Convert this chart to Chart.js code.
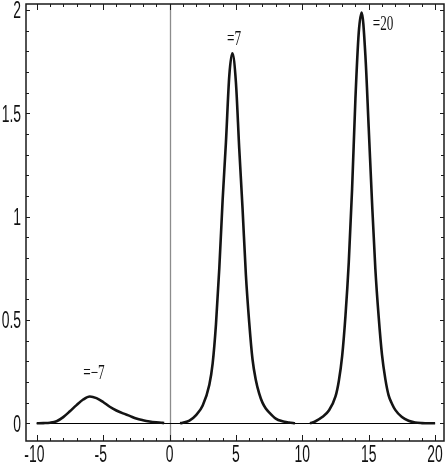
<!DOCTYPE html>
<html>
<head>
<meta charset="utf-8">
<script src="https://cdn.jsdelivr.net/npm/chart.js@4.4.0/dist/chart.umd.min.js"></script>
<style>
html, body { margin: 0; padding: 0; background: #fff; }
#wrap { width: 445px; height: 463px; position: relative; }
</style>
</head>
<body>
<div id="wrap"><canvas id="peaksChart"></canvas></div>
<script>
// values
const curve1X = [-10, -9.5, -9, -8.5, -8, -7.5, -7, -6.5, -6, -5.5, -5, -4.5, -4, -3.5, -3, -2.5, -2, -1.5, -1, -0.5, -0.4];
const curve1Y = [0, 0.001, 0.003, 0.01, 0.03, 0.058, 0.088, 0.115, 0.13, 0.122, 0.103, 0.08, 0.062, 0.048, 0.036, 0.023, 0.015, 0.009, 0.005, 0.002, 0.001];

const curve2X = [0.8, 1, 1.5, 2, 2.5, 3, 3.25, 3.5, 3.75, 4, 4.25, 4.5, 4.73, 5, 5.25, 5.5, 5.75, 6, 6.25, 6.5, 6.75, 7, 7.25, 7.5, 8, 8.5, 9, 9.45];
const curve2Y = [0, 0.003, 0.013, 0.04, 0.086, 0.187, 0.29, 0.48, 0.75, 1.08, 1.36, 1.68, 1.79, 1.65, 1.33, 1.04, 0.72, 0.49, 0.31, 0.21, 0.145, 0.1, 0.072, 0.053, 0.023, 0.01, 0.004, 0];

const curve3X = [10.58, 11, 11.5, 12, 12.5, 12.75, 13, 13.25, 13.5, 13.75, 14, 14.25, 14.47, 14.75, 15, 15.25, 15.5, 15.75, 16, 16.25, 16.5, 16.75, 17, 17.5, 18, 18.5, 19, 19.5, 20];
const curve3Y = [0, 0.01, 0.03, 0.062, 0.13, 0.205, 0.325, 0.52, 0.78, 1.134, 1.57, 1.89, 1.987, 1.78, 1.43, 1.07, 0.748, 0.516, 0.332, 0.215, 0.135, 0.095, 0.065, 0.03, 0.012, 0.004, 0.001, 0, 0];

const xTicks = [-10, -5, 0, 5, 10, 15, 20];
const xTickLabels = ['-10', '-5', '0', '5', '10', '15', '20'];
const yTicks = [0, 0.5, 1, 1.5, 2];
const yTickLabels = ['0', '0.5', '1', '1.5', '2'];

const peakLabels = ['=\u22127', '=7', '=20'];
const peakLabelX = [-5.69, 4.86, 16.08];
const peakLabelY = [0.238, 1.854, 1.93];

function toPoints(xs, ys) {
    return xs.map((v, i) => ({ x: v, y: ys[i] }));
}

function lineSet(xs, ys) {
    return {
        data: toPoints(xs, ys),
        borderColor: '#141414',
        borderWidth: 2.6,
        pointRadius: 0,
        fill: false,
        cubicInterpolationMode: 'monotone'
    };
}

// draws text squeezed horizontally, like the narrow fonts of the original
function narrowText(ctx, text, x, y, sx, align) {
    ctx.save();
    ctx.translate(x, y);
    ctx.scale(sx, 1);
    ctx.textAlign = align;
    ctx.fillText(text, 0, 0);
    ctx.restore();
}

const framePlugin = {
    id: 'frame',
    beforeDatasetsDraw(chart) {
        const { ctx, chartArea: a, scales: { x, y } } = chart;
        ctx.save();
        const x0 = Math.round(x.getPixelForValue(0)) + 0.5;
        ctx.strokeStyle = '#8c8c8c';
        ctx.lineWidth = 1.3;
        ctx.beginPath();
        ctx.moveTo(x0, a.top);
        ctx.lineTo(x0, a.bottom);
        ctx.stroke();

        const y0 = Math.round(y.getPixelForValue(0)) + 0.5;
        ctx.strokeStyle = '#000';
        ctx.lineWidth = 1;
        ctx.beginPath();
        ctx.moveTo(x.getPixelForValue(xTicks[0]), y0);
        ctx.lineTo(x.getPixelForValue(xTicks[xTicks.length - 1]), y0);
        ctx.stroke();
        ctx.restore();
    },
    afterDraw(chart) {
        const { ctx, chartArea: a, scales: { x, y } } = chart;
        ctx.save();
        ctx.strokeStyle = '#1a1a1a';
        ctx.lineWidth = 1.5;
        ctx.strokeRect(a.left, a.top, a.right - a.left, a.bottom - a.top);

        // inward ticks, minor every 1 on x and 0.1 on y
        ctx.lineWidth = 1;
        ctx.beginPath();
        for (let v = -10; v <= 20.001; v += 1) {
            const px = Math.round(x.getPixelForValue(v)) + 0.5;
            const len = Math.abs(v % 5) < 0.001 ? 6 : 3;
            ctx.moveTo(px, a.bottom); ctx.lineTo(px, a.bottom - len);
            ctx.moveTo(px, a.top); ctx.lineTo(px, a.top + len);
        }
        for (let i = 0; i <= 20; i++) {
            const v = i / 10;
            const py = Math.round(y.getPixelForValue(v)) + 0.5;
            const len = i % 5 === 0 ? 4 : 3;
            ctx.moveTo(a.left, py); ctx.lineTo(a.left + len, py);
            ctx.moveTo(a.right, py); ctx.lineTo(a.right - len, py);
        }
        ctx.stroke();

        // tick labels
        ctx.fillStyle = '#111';
        ctx.font = '24px "Liberation Sans", Arial, sans-serif';
        ctx.textBaseline = 'alphabetic';
        const sx = 0.58;
        xTickLabels.forEach((t, i) => {
            const px = x.getPixelForValue(xTicks[i]);
            const digits = t.replace('-', '');
            const w = ctx.measureText(digits).width * sx;
            narrowText(ctx, t, px + w / 2, a.bottom + 21, sx, 'right');
        });
        yTickLabels.forEach((t, i) => {
            const py = y.getPixelForValue(yTicks[i]);
            narrowText(ctx, t, 21, py + 8.5, sx, 'right');
        });

        // peak labels
        ctx.font = '20px "Liberation Serif", "Times New Roman", serif';
        ctx.textBaseline = 'middle';
        peakLabels.forEach((t, i) => {
            narrowText(ctx, t, x.getPixelForValue(peakLabelX[i]), y.getPixelForValue(peakLabelY[i]), 0.66, 'center');
        });
        ctx.restore();
    }
};

new Chart(document.getElementById('peaksChart'), {
    type: 'line',
    data: {
        datasets: [
            lineSet(curve1X, curve1Y),
            lineSet(curve2X, curve2Y),
            lineSet(curve3X, curve3Y)
        ]
    },
    options: {
        responsive: true,
        maintainAspectRatio: false,
        animation: false,
        devicePixelRatio: 1,
        layout: { padding: { left: 26, right: 1, top: 4, bottom: 22 } },
        scales: {
            x: { type: 'linear', min: -10.806, max: 20.67, display: false },
            y: { type: 'linear', min: -0.0856, max: 2.0286, display: false }
        },
        plugins: {
            legend: { display: false },
            tooltip: { enabled: false }
        }
    },
    plugins: [framePlugin]
});
</script>
</body>
</html>
